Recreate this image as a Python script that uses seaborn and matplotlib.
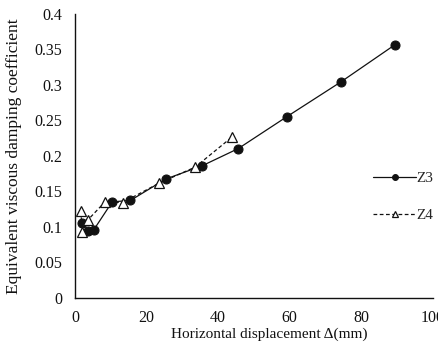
import matplotlib
matplotlib.use("Agg")
import matplotlib.pyplot as plt
import seaborn as sns
import pandas as pd

z3_x = [1.9, 3.5, 5.3, 10.4, 15.5, 25.3, 35.6, 45.6, 59.2, 74.3, 89.3]
z3_y = [0.105, 0.094, 0.096, 0.135, 0.137, 0.167, 0.186, 0.210, 0.255, 0.304, 0.356]
z4_x = [1.7, 1.9, 3.5, 8.4, 13.3, 23.4, 33.6, 43.8]
z4_y = [0.122, 0.093, 0.109, 0.135, 0.134, 0.161, 0.184, 0.226]
x_ticks = [0, 20, 40, 60, 80, 100]
y_ticks = [0, 0.05, 0.1, 0.15, 0.2, 0.25, 0.3, 0.35, 0.4]
y_tick_labels = ["0", "0.05", "0.1", "0.15", "0.2", "0.25", "0.3", "0.35", "0.4"]

sns.set_style("white")
plt.rcParams['font.family'] = ['Liberation Serif', 'DejaVu Serif']

fig = plt.figure(figsize=(4.39, 3.53), dpi=100)
ax = fig.add_axes([0.1708, 0.1567, 0.8155, 0.8045])

d3 = pd.DataFrame({"x": z3_x, "y": z3_y})
d4 = pd.DataFrame({"x": z4_x, "y": z4_y})
sns.lineplot(data=d3, x="x", y="y", sort=False, ax=ax, color="#111111", lw=0.9,
             marker="o", markersize=6.5, markerfacecolor="#111111", markeredgecolor="#111111",
             label="Z3")
sns.lineplot(data=d4, x="x", y="y", sort=False, ax=ax, color="#111111", lw=0.9,
             linestyle=(0, (3, 2)), marker="^", markersize=7.5, markerfacecolor="white",
             markeredgecolor="#111111", markeredgewidth=0.9, label="Z4")

ax.set_xlim(0, 100)
ax.set_ylim(0, 0.4)
ax.set_xticks(x_ticks)
ax.set_yticks(y_ticks)
ax.set_yticklabels(y_tick_labels)
ax.tick_params(direction="in", length=4, width=0.9, labelsize=11.5, colors="#111111")
ax.tick_params(axis="y", pad=9)
ax.tick_params(axis="x", pad=9)
for s in ["top", "right"]:
    ax.spines[s].set_visible(False)
for s in ["left", "bottom"]:
    ax.spines[s].set_color("#111111")
    ax.spines[s].set_linewidth(1.0)
ax.set_xlabel("Horizontal displacement \u0394(mm)", fontsize=11, color="#111111")
ax.set_ylabel("Equivalent viscous damping coefficient", fontsize=12.5, color="#111111")
ax.xaxis.set_label_coords(0.543, -0.105)
ax.yaxis.set_label_coords(-0.148, 0.5)
ax.legend(loc="center left", bbox_to_anchor=(0.795, 0.355), frameon=False,
          labelspacing=1.5, handlelength=2.8, handletextpad=0.0, fontsize=11,
          markerscale=0.65)

fig.savefig("out.png", dpi=100)
